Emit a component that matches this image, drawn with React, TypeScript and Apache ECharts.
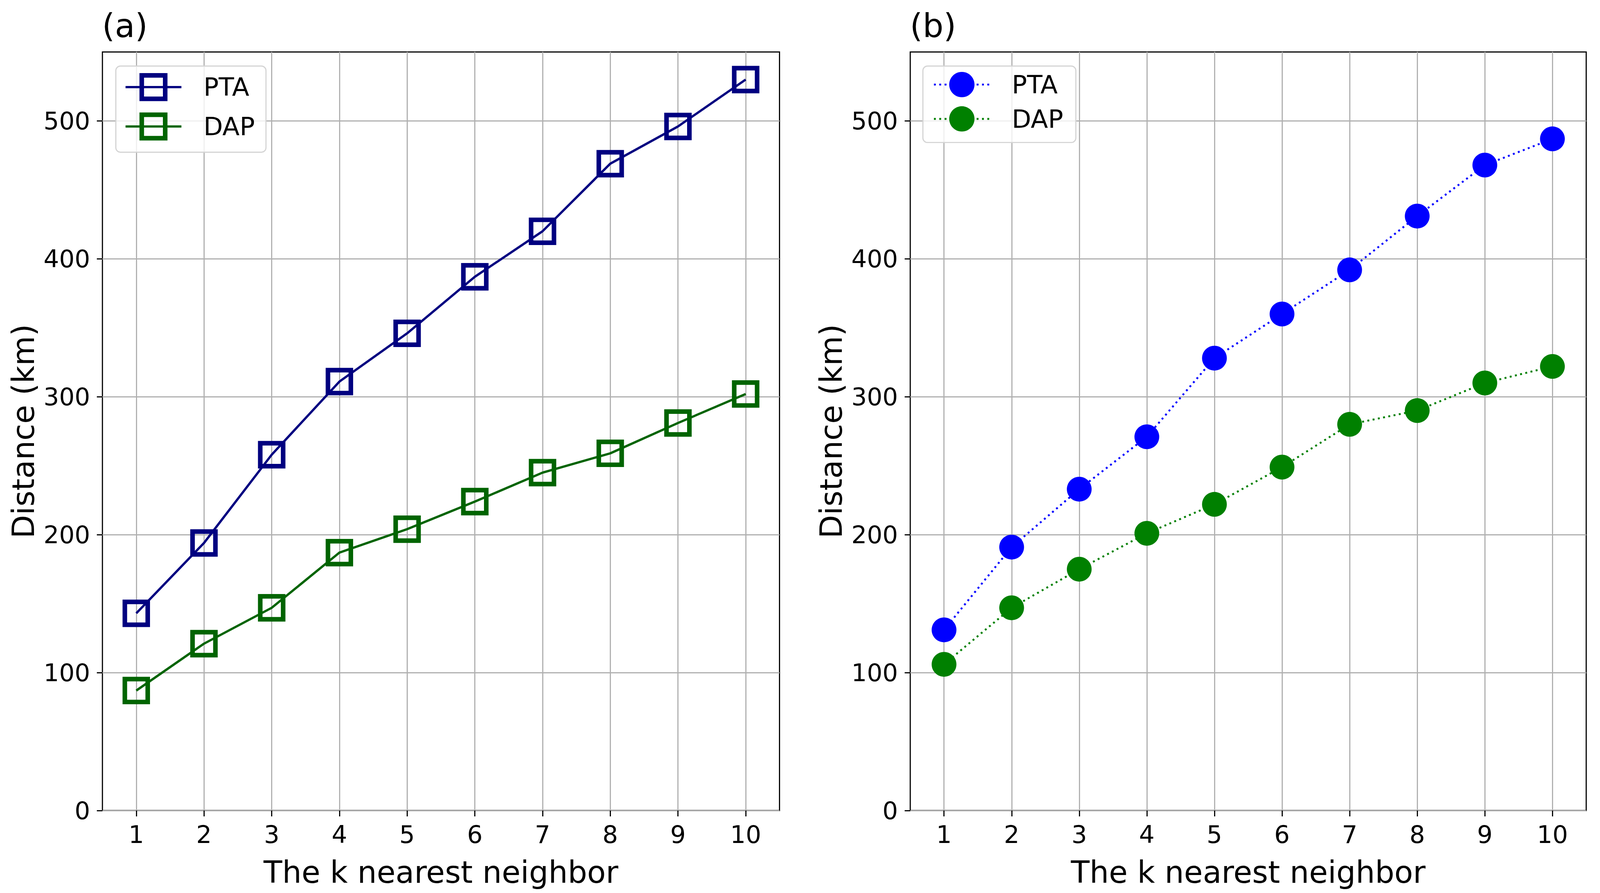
import React, { useEffect, useRef, useState } from "react";
import * as echarts from "echarts";

const kValues = [1, 2, 3, 4, 5, 6, 7, 8, 9, 10];
const yTicks = [0, 100, 200, 300, 400, 500];
const ptaA = [143, 194, 258, 311, 346, 387, 420, 469, 496, 530];
const dapA = [87, 121, 147, 187, 204, 224, 245, 259, 281, 302];
const ptaB = [131, 191, 233, 271, 328, 360, 392, 431, 468, 487];
const dapB = [106, 147, 175, 201, 222, 249, 280, 290, 310, 322];
const panelTitles = ["(a)", "(b)"];
const xName = "The k nearest neighbor";
const yName = "Distance (km)";

const FONT = "DejaVu Sans";
const NAVY = "#000080";
const DKGREEN = "#006400";
const BLUE = "#0000ff";
const GREEN = "#008000";
const REF_W = 4296;
const REF_H = 2285;

const pairs = (vals: number[]) => kValues.map((k, i) => [k, vals[i]]);

function buildOption(sx: number, sy: number) {
  const fs = Math.sqrt(sx * sy);
  const X = (v: number) => v * sx;
  const Y = (v: number) => v * sy;
  const F = (v: number) => v * fs;
  const DOT = [F(5), F(9)];

  const makeXAxis = (gridIndex: number) => ({
    type: "value",
    gridIndex,
    min: 0.5,
    max: 10.5,
    splitNumber: 10,
    name: xName,
    nameLocation: "middle",
    nameGap: Y(118),
    nameTextStyle: { fontFamily: FONT, fontSize: F(80), color: "#000", lineHeight: F(80) },
    axisLine: { show: false },
    axisTick: {
      show: true,
      inside: false,
      length: Y(15),
      customValues: kValues,
      lineStyle: { color: "#000", width: F(3) },
    },
    axisLabel: {
      show: true,
      margin: Y(30),
      customValues: kValues,
      fontFamily: FONT,
      fontSize: F(64),
      color: "#000",
      lineHeight: F(64),
    },
    splitLine: { show: true, lineStyle: { color: "#b0b0b0", width: F(3) } },
  });

  const makeYAxis = (gridIndex: number) => ({
    type: "value",
    gridIndex,
    min: 0,
    max: 550,
    interval: 100,
    name: yName,
    nameLocation: "middle",
    nameGap: X(172),
    nameTextStyle: { fontFamily: FONT, fontSize: F(80), color: "#000", lineHeight: F(80) },
    axisLine: { show: false },
    axisTick: {
      show: true,
      inside: false,
      length: X(15),
      customValues: yTicks,
      lineStyle: { color: "#000", width: F(3) },
    },
    axisLabel: {
      show: true,
      margin: X(33),
      customValues: yTicks,
      fontFamily: FONT,
      fontSize: F(64),
      color: "#000",
    },
    splitLine: { show: true, lineStyle: { color: "#b0b0b0", width: F(3) } },
  });

  const legendCommon = {
    orient: "vertical",
    itemWidth: X(150),
    backgroundColor: "rgba(255,255,255,0.8)",
    borderColor: "#d4d4d4",
    borderWidth: F(3),
    borderRadius: F(12),
    formatter: (name: string) => name.split(" ")[0],
    textStyle: {
      fontFamily: FONT,
      fontSize: F(66),
      color: "#000",
      padding: [0, 0, 0, X(54)],
    },
    selectedMode: false,
  };

  const titleStyle = {
    fontFamily: FONT,
    fontSize: F(86),
    fontWeight: "normal",
    color: "#000",
    lineHeight: F(86),
  };

  const gridBase = {
    top: Y(133),
    height: Y(1941),
    show: true,
    borderColor: "#000",
    borderWidth: F(3),
    backgroundColor: "transparent",
    containLabel: false,
  };

  return {
    animation: false,
    backgroundColor: "#fff",
    title: [
      { text: panelTitles[0], left: X(274), top: Y(24), padding: 0, textStyle: titleStyle },
      { text: panelTitles[1], left: X(2443), top: Y(24), padding: 0, textStyle: titleStyle },
    ],
    grid: [
      { ...gridBase, left: X(275), width: X(1818) },
      { ...gridBase, left: X(2444), width: X(1815) },
    ],
    xAxis: [makeXAxis(0), makeXAxis(1)],
    yAxis: [makeYAxis(0), makeYAxis(1)],
    legend: [
      {
        ...legendCommon,
        left: X(311),
        top: Y(169),
        itemHeight: Y(75),
        itemGap: Y(29),
        padding: [Y(18), X(30), Y(30), X(23)],
        data: [
          {
            name: "PTA (a)",
            itemStyle: { color: "rgba(0,0,0,0)", borderColor: NAVY, borderWidth: F(12) },
            lineStyle: { color: NAVY, width: F(6) },
          },
          {
            name: "DAP (a)",
            itemStyle: { color: "rgba(0,0,0,0)", borderColor: DKGREEN, borderWidth: F(12) },
            lineStyle: { color: DKGREEN, width: F(6) },
          },
        ],
      },
      {
        ...legendCommon,
        left: X(2478),
        top: Y(169),
        itemHeight: Y(81),
        itemGap: Y(23),
        padding: [Y(15), X(34), Y(28), X(27)],
        data: [
          {
            name: "PTA (b)",
            itemStyle: { color: BLUE, borderWidth: 0 },
            lineStyle: { color: BLUE, width: F(5), type: DOT },
          },
          {
            name: "DAP (b)",
            itemStyle: { color: GREEN, borderWidth: 0 },
            lineStyle: { color: GREEN, width: F(5), type: DOT },
          },
        ],
      },
    ],
    series: [
      {
        name: "PTA (a)",
        type: "line",
        xAxisIndex: 0,
        yAxisIndex: 0,
        data: pairs(ptaA),
        symbol: "rect",
        symbolSize: F(60),
        lineStyle: { color: NAVY, width: F(6) },
        itemStyle: { color: "rgba(0,0,0,0)", borderColor: NAVY, borderWidth: F(12) },
        z: 3,
      },
      {
        name: "DAP (a)",
        type: "line",
        xAxisIndex: 0,
        yAxisIndex: 0,
        data: pairs(dapA),
        symbol: "rect",
        symbolSize: F(60),
        lineStyle: { color: DKGREEN, width: F(6) },
        itemStyle: { color: "rgba(0,0,0,0)", borderColor: DKGREEN, borderWidth: F(12) },
        z: 3,
      },
      {
        name: "PTA (b)",
        type: "line",
        xAxisIndex: 1,
        yAxisIndex: 1,
        data: pairs(ptaB),
        symbol: "circle",
        symbolSize: F(65),
        lineStyle: { color: BLUE, width: F(5), type: DOT },
        itemStyle: { color: BLUE, borderWidth: 0 },
        z: 3,
      },
      {
        name: "DAP (b)",
        type: "line",
        xAxisIndex: 1,
        yAxisIndex: 1,
        data: pairs(dapB),
        symbol: "circle",
        symbolSize: F(65),
        lineStyle: { color: GREEN, width: F(5), type: DOT },
        itemStyle: { color: GREEN, borderWidth: 0 },
        z: 3,
      },
    ],
  };
}

export default function App() {
  const ref = useRef<HTMLDivElement>(null);
  const vw = Math.max(1, document.documentElement.clientWidth || window.innerWidth || REF_W);
  const vh = Math.max(1, document.documentElement.clientHeight || window.innerHeight || REF_H);
  const [size] = useState({ w: vw, h: vh, sx: vw / REF_W, sy: vh / REF_H });

  useEffect(() => {
    if (!ref.current) return;
    const chart = echarts.init(ref.current, null, { renderer: "svg" });
    chart.setOption(buildOption(size.sx, size.sy) as any);
    return () => {
      chart.dispose();
    };
  }, [size]);

  return (
    <div
      ref={ref}
      style={{
        position: "fixed",
        left: 0,
        top: 0,
        width: `${size.w}px`,
        height: `${size.h}px`,
        background: "#fff",
      }}
    />
  );
}
